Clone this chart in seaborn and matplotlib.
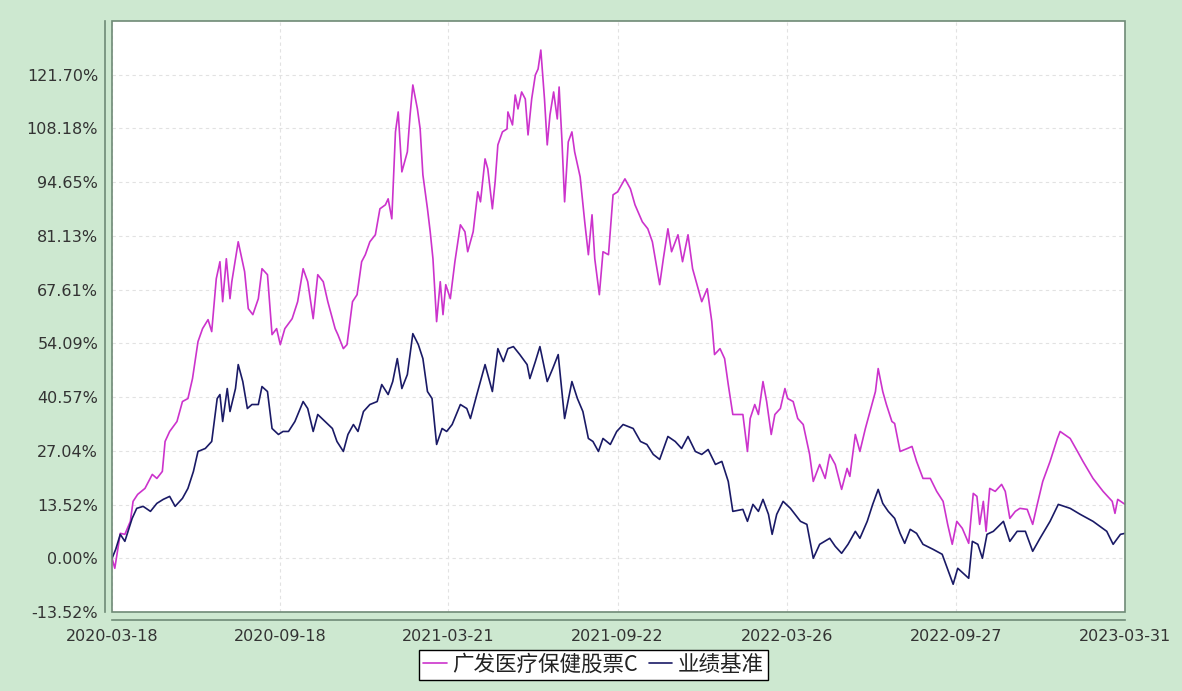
import matplotlib
matplotlib.use("Agg")
import matplotlib.pyplot as plt
import matplotlib.dates as mdates
from matplotlib.patches import Rectangle
import seaborn as sns
import pandas as pd

# 广发医疗保健股票C vs 业绩基准, cumulative return (%)
start_date = "2020-03-18"
end_date = "2023-03-31"

fund_days = [0, 3, 9, 14, 20, 23, 28, 36, 44, 49, 55, 58, 63, 71, 77, 83, 88, 94, 99, 105,
             109, 114, 118, 121, 125, 129, 131, 138, 142, 145, 149, 154, 160, 164, 170, 175, 180, 184, 189, 197,
             203, 209, 214, 220, 225, 231, 236, 244, 247, 253, 257, 263, 268, 273, 277, 282, 288, 293, 299, 302,
             306, 310, 313, 317, 323, 326, 329, 334, 337, 340, 345, 348, 351, 355, 359, 362, 365, 370, 375, 381,
             386, 389, 395, 400, 403, 408, 411, 416, 419, 422, 427, 432, 433, 438, 441, 444, 448, 452, 455, 459,
             463, 466, 469, 473, 476, 479, 483, 487, 489, 492, 495, 499, 503, 506, 512, 517, 521, 525, 528, 533,
             537, 543, 548, 553, 561, 567, 572, 580, 586, 591, 599, 603, 608, 612, 619, 624, 630, 635, 641, 645,
             651, 656, 659, 665, 670, 674, 679, 690, 695, 698, 703, 707, 712, 716, 721, 725, 731, 736, 739, 745,
             750, 756, 763, 767, 774, 780, 785, 791, 798, 804, 807, 813, 818, 824, 829, 835, 838, 843, 847, 853,
             856, 862, 870, 875, 880, 887, 895, 902, 909, 914, 919, 924, 930, 937, 942, 946, 949, 953, 956, 960,
             966, 973, 977, 982, 988, 993, 1001, 1007, 1012, 1018, 1026, 1034, 1037, 1048, 1056, 1062, 1073, 1084, 1094, 1097,
             1100, 1108]
fund_ret = [0.00, -2.51, 6.28, 6.03, 9.30, 14.33, 16.08, 17.59, 21.11, 20.10, 21.86, 29.40, 31.92, 34.43, 39.45, 40.21, 45.23, 54.53, 57.80, 60.06,
            57.05, 70.36, 74.64, 64.58, 75.39, 65.34, 69.61, 79.66, 75.39, 72.12, 62.83, 61.32, 65.34, 72.88, 71.37, 56.29, 57.80, 53.78, 57.80, 60.31,
            64.58, 72.88, 69.61, 60.31, 71.37, 69.61, 64.58, 57.80, 56.29, 52.77, 53.78, 64.58, 66.34, 74.64, 76.40, 79.66, 81.42, 87.96, 88.96, 90.47,
            85.44, 107.31, 112.33, 97.25, 102.28, 111.58, 119.12, 113.09, 108.06, 96.50, 87.96, 82.18, 75.39, 59.56, 69.61, 61.32, 68.86, 65.34, 74.64, 83.93,
            82.18, 77.15, 82.18, 92.23, 89.71, 100.52, 98.01, 87.96, 94.74, 104.04, 107.31, 108.06, 112.33, 109.06, 116.60, 113.09, 117.36, 115.60, 106.55, 115.60,
            121.63, 123.14, 127.91, 115.60, 104.04, 111.58, 117.36, 110.57, 118.61, 105.55, 89.71, 104.79, 107.31, 102.28, 96.00, 84.69, 76.40, 86.45, 75.39, 66.34,
            77.15, 76.40, 91.47, 92.23, 95.49, 92.98, 88.96, 84.69, 82.93, 79.66, 68.86, 75.39, 82.93, 77.15, 81.42, 74.64, 81.42, 72.88, 67.85, 64.58,
            67.85, 59.56, 51.27, 52.77, 50.26, 43.73, 36.19, 36.19, 26.89, 35.18, 38.70, 36.19, 44.48, 39.45, 31.16, 36.19, 37.70, 42.72, 40.21, 39.45,
            35.18, 33.67, 26.14, 19.35, 23.62, 20.10, 26.14, 23.62, 17.34, 22.62, 20.61, 31.16, 26.89, 32.67, 36.94, 41.97, 47.75, 41.97, 38.70, 34.43,
            33.93, 26.89, 27.64, 28.15, 24.38, 20.10, 20.10, 16.84, 14.33, 8.54, 3.52, 9.30, 7.54, 3.77, 16.33, 15.58, 8.54, 14.33, 6.79, 17.59,
            16.84, 18.60, 16.84, 10.05, 11.81, 12.57, 12.31, 8.54, 13.57, 19.35, 24.38, 30.16, 31.92, 30.16, 26.89, 24.38, 20.10, 16.84, 14.33, 11.31,
            14.83, 13.57]

bench_days = [0, 4, 9, 14, 22, 27, 34, 42, 49, 56, 63, 69, 77, 83, 89, 94, 102, 109, 115, 118,
              121, 126, 129, 135, 138, 143, 148, 153, 160, 164, 170, 175, 182, 187, 193, 200, 209, 214, 220, 225,
              233, 241, 246, 253, 258, 264, 269, 275, 282, 290, 295, 302, 307, 312, 317, 323, 329, 335, 340, 345,
              350, 355, 361, 366, 372, 381, 388, 392, 399, 408, 416, 422, 428, 433, 439, 446, 454, 457, 463, 468,
              476, 482, 488, 495, 503, 509, 515, 521, 526, 532, 537, 545, 552, 559, 570, 578, 585, 592, 599, 608,
              616, 623, 630, 638, 645, 652, 660, 667, 674, 679, 690, 695, 701, 707, 712, 718, 722, 727, 734, 742,
              753, 760, 767, 774, 785, 791, 798, 805, 813, 818, 826, 832, 838, 843, 849, 856, 862, 867, 873, 880,
              887, 898, 908, 914, 920, 925, 937, 941, 947, 952, 957, 964, 975, 982, 990, 999, 1007, 1015, 1026, 1035,
              1048, 1059, 1073, 1088, 1095, 1103, 1108]
bench_ret = [0.00, 2.26, 6.03, 4.27, 10.05, 12.57, 13.07, 11.81, 13.82, 14.83, 15.58, 13.07, 15.08, 17.59, 21.86, 26.89, 27.64, 29.40, 40.21, 41.21,
             34.43, 42.72, 36.94, 42.72, 48.75, 44.48, 37.70, 38.70, 38.70, 43.22, 41.97, 32.67, 31.16, 31.92, 31.92, 34.43, 39.45, 37.70, 31.92, 36.19,
             34.43, 32.67, 29.40, 26.89, 31.16, 33.67, 31.92, 36.94, 38.70, 39.45, 43.73, 41.21, 44.48, 50.26, 42.72, 46.24, 56.54, 53.78, 50.26, 41.97,
             40.21, 28.65, 32.67, 31.92, 33.67, 38.70, 37.70, 35.18, 41.21, 48.75, 41.97, 52.77, 49.51, 52.77, 53.28, 51.27, 48.75, 45.23, 49.51, 53.28,
             44.48, 47.75, 51.27, 35.18, 44.48, 40.21, 36.94, 30.16, 29.40, 26.89, 30.16, 28.65, 31.92, 33.67, 32.67, 29.40, 28.65, 26.14, 24.88, 30.66,
             29.40, 27.64, 30.66, 26.89, 26.14, 27.39, 23.62, 24.38, 19.35, 11.81, 12.31, 9.30, 13.57, 11.81, 14.83, 11.06, 6.03, 11.06, 14.33, 12.57,
             9.30, 8.54, 0.00, 3.52, 5.03, 3.02, 1.26, 3.52, 6.79, 5.03, 9.30, 13.57, 17.34, 13.82, 11.81, 10.05, 6.28, 3.77, 7.29, 6.28,
             3.52, 2.26, 1.01, -2.76, -6.53, -2.51, -5.03, 4.27, 3.52, 0.00, 6.03, 6.79, 9.30, 4.27, 6.79, 6.79, 1.76, 5.03, 9.30, 13.57,
             12.57, 11.06, 9.30, 6.79, 3.52, 6.03, 6.28]

y_ticks = [-13.52, 0.00, 13.52, 27.04, 40.57, 54.09, 67.61, 81.13, 94.65, 108.18, 121.70]
y_labels = ["-13.52%", "0.00%", "13.52%", "27.04%", "40.57%", "54.09%", "67.61%",
            "81.13%", "94.65%", "108.18%", "121.70%"]
x_ticks = ["2020-03-18", "2020-09-18", "2021-03-21", "2021-09-22", "2022-03-26", "2022-09-27", "2023-03-31"]

series_names = ["广发医疗保健股票C", "业绩基准"]
bg = "#cde8d0"
axis_col = "#6f8a76"

start = pd.Timestamp(start_date)
fund = pd.DataFrame({"date": start + pd.to_timedelta(fund_days, unit="D"), "ret": fund_ret})
bench = pd.DataFrame({"date": start + pd.to_timedelta(bench_days, unit="D"), "ret": bench_ret})

sns.set_style("white")
plt.rcParams["font.family"] = ["DejaVu Sans", "Noto Sans CJK SC"]

fig = plt.figure(figsize=(11.82, 6.91), dpi=100, facecolor=bg)
ax = fig.add_axes([0.0948, 0.1143, 0.8570, 0.8552])
ax.set_facecolor("white")

sns.lineplot(data=fund, x="date", y="ret", ax=ax, color="#cc33cc", lw=1.2, label=series_names[0])
sns.lineplot(data=bench, x="date", y="ret", ax=ax, color="#1a1a66", lw=1.2, label=series_names[1])

ax.set_xlim(pd.Timestamp(start_date), pd.Timestamp(end_date))
ax.set_ylim(-13.52, 135.2)
ax.set_yticks(y_ticks)
ax.set_yticklabels(y_labels)
ax.set_xticks(pd.to_datetime(x_ticks))
ax.xaxis.set_major_formatter(mdates.DateFormatter("%Y-%m-%d"))
ax.set_xlabel("")
ax.set_ylabel("")

ax.grid(True, color="#e2e2e2", ls=(0, (3, 3)), lw=0.8)

# offset axis lines, plus a frame around the plot area
for s in ["top", "right"]:
    ax.spines[s].set_visible(False)
for s in ["left", "bottom"]:
    ax.spines[s].set_color(axis_col)
    ax.spines[s].set_linewidth(1.2)
ax.spines["left"].set_position(("outward", 5))
ax.spines["bottom"].set_position(("outward", 6))
ax.add_patch(Rectangle((0, 0), 1, 1, transform=ax.transAxes, fill=False,
                       ec=axis_col, lw=1.2, clip_on=False, zorder=5))
ax.tick_params(axis="both", length=3, width=1, color=axis_col, labelsize=11.5,
               labelcolor="#333333", direction="out")
ax.tick_params(axis="y", pad=2)

handles, labels = ax.get_legend_handles_labels()
ax.get_legend().remove()
leg = fig.legend(handles, labels, loc="lower center", bbox_to_anchor=(0.502, 0.0), ncol=2,
                 frameon=True, fancybox=False, framealpha=1, edgecolor="black",
                 handlelength=1.1, handletextpad=0.25, columnspacing=0.5, borderpad=0.2,
                 prop={"family": ["Noto Sans CJK SC", "DejaVu Sans"], "size": 15.5})
leg.get_frame().set_linewidth(1.0)
for t in leg.get_texts():
    t.set_color("#222222")

fig.savefig("out.png", dpi=100, facecolor=bg)
